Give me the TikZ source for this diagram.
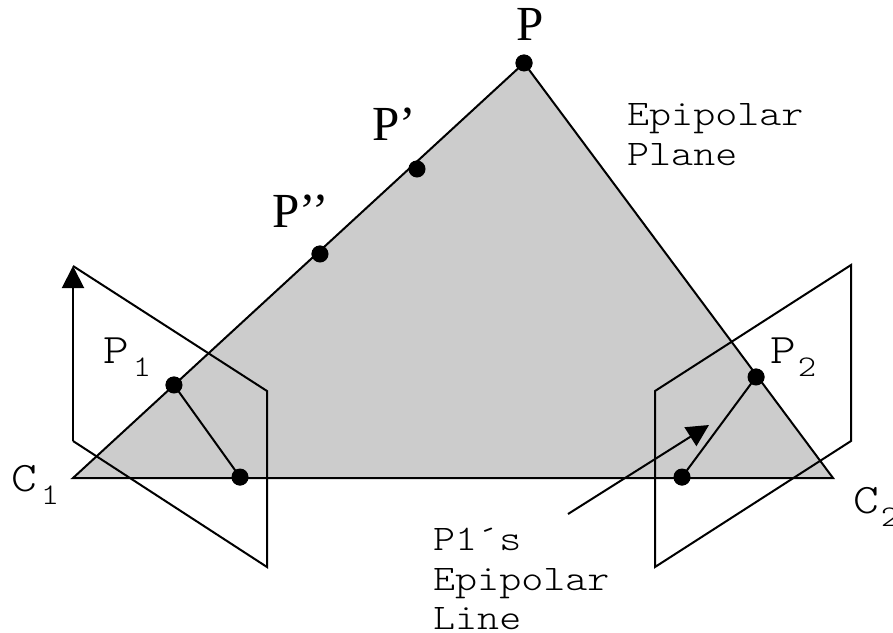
\documentclass[tikz,border=0pt]{standalone}
\usepackage{fontspec}
\setmainfont{Liberation Serif}
\newfontfamily\lmlight[FakeStretch=1.165]{Latin Modern Mono Light}
\usetikzlibrary{arrows.meta}
\newcommand{\subd}[1]{\raisebox{-13pt}{\fontsize{30}{30}\selectfont #1}}
\tikzset{
 ln/.style={draw=black,line width=2pt,line join=miter},
 dot/.style={circle,fill=black,inner sep=0pt,minimum size=17pt},
 mono/.style={font=\lmlight\fontsize{36}{40}\selectfont,inner sep=0pt,anchor=base west},
 big/.style={font=\lmlight\fontsize{42}{44}\selectfont,inner sep=0pt,anchor=base west},
 ser/.style={font=\fontsize{49}{50}\selectfont,inner sep=0pt,anchor=base west},
 arr/.style={ln,-{Triangle[length=22pt,width=22pt]}}
}
\begin{document}
\begin{tikzpicture}[x=1pt,y=-1pt]
\useasboundingbox (0,0) rectangle (893,632);
\coordinate (C1) at (73,478);
\coordinate (C2) at (833,478);
\node[dot] (P) at (524,63) {};
\node[dot] (Pa) at (417,169) {};
\node[dot] (Pb) at (320,254) {};
\node[dot] (P1) at (174,385) {};
\node[dot] (Q1) at (240,477) {};
\node[dot] (P2) at (756,377) {};
\node[dot] (Q2) at (682,477) {};
\fill[black!20] (C1) -- (P.center) -- (C2) -- cycle;
\draw[ln] (C1) -- (P.center) -- (C2) -- cycle;
\draw[ln] (P1.center) -- (Q1.center);
\draw[ln] (P2.center) -- (Q2.center);
\coordinate (A1) at (73,266);
\coordinate (A2) at (73,441);
\coordinate (A3) at (267,567);
\coordinate (A4) at (267,391);
\draw[ln] (A2) -- (A3) -- (A4) -- (A1);
\draw[arr] (A2) -- (A1);
\draw[ln] (655,391) -- (851,265) -- (851,441) -- (655,567) -- cycle;
\coordinate (L0) at (568,514);
\coordinate (L1) at (709,425);
\draw[arr] (L0) -- (L1);
\node[dot] at (P) {};\node[dot] at (Pa) {};\node[dot] at (Pb) {};
\node[dot] at (P1) {};\node[dot] at (Q1) {};\node[dot] at (P2) {};\node[dot] at (Q2) {};
\node[ser] (tP) at (516,40) {P};
\node[ser] (tPa) at (372,140) {P’};
\node[ser] (tPb) at (272,227) {P’’};
\node[mono] (ep1) at (627,125) {Epipolar};
\node[mono] (ep2) at (627,165) {Plane};
\node[big] (p1) at (103,363) {P\hspace{4pt}\subd{1}};
\node[big] (p2) at (770,363) {P\hspace{2pt}\subd{2}};
\node[big] (c1) at (11,491) {C\hspace{4pt}\subd{1}};
\node[big] (c2) at (853,513) {C\hspace{2pt}\subd{2}};
\node[mono] (l1) at (433,550) {P1´s};
\node[mono] (l2) at (433,590) {Epipolar};
\node[mono] (l3) at (433,629) {Line};
\end{tikzpicture}
\end{document}
